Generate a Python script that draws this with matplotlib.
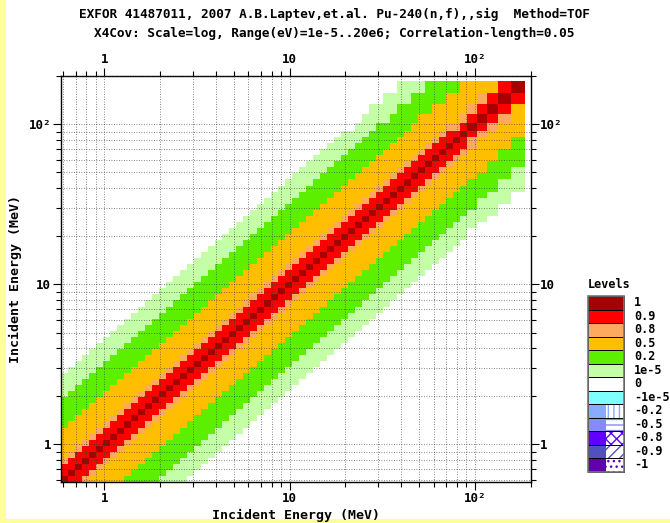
"""
X4Cov correlation matrix plot, EXFOR 41487011 (Pu-240(n,f)).
"""

import numpy as np
import matplotlib.pyplot as plt
from matplotlib.colors import ListedColormap, BoundaryNorm
from matplotlib.patches import Rectangle
from matplotlib.ticker import LogLocator, FixedLocator, FixedFormatter, NullFormatter

# Energy bin edges (MeV)
energy_edges = [
    0.583, 0.636, 0.694, 0.757, 0.826, 0.901, 0.983, 1.072, 1.169, 1.276,
    1.392, 1.518, 1.656, 1.806, 1.970, 2.149, 2.345, 2.558, 2.790, 3.044,
    3.321, 3.623, 3.952, 4.311, 4.703, 5.131, 5.597, 6.106, 6.661, 7.266,
    7.927, 8.647, 9.433, 10.29, 11.23, 12.24, 13.36, 14.57, 15.90, 17.34,
    18.92, 20.64, 22.51, 24.56, 26.79, 29.23, 31.88, 34.78, 37.95, 41.39,
    45.16, 49.26, 53.74, 58.62, 63.94, 69.76, 76.10, 83.02, 90.56, 102.4,
    115.9, 132.9, 156.2, 185.8,
]

# distance from the diagonal (decades between bin centres) -> correlation value
dist_limits = [0.0, 0.08, 0.125, 0.33, 0.5, 0.65]
dist_values = [1.0, 0.95, 0.85, 0.65, 0.35, 0.1]

# legend
level_labels = ['1', '0.9', '0.8', '0.5', '0.2', '1e-5', '0', '-1e-5',
                '-0.2', '-0.5', '-0.8', '-0.9', '-1']
level_colors = ['#A80000', '#FF0000', '#FFA860', '#FFBF00', '#5CF000', '#C4FFA8',
                '#FFFFFF', '#80FFFF', '#88AAFF', '#8888FF', '#6000FF', '#5050C0', '#6000B0']
level_hatches = [None] * 8 + ['|||', '---', 'xxx', '///', '...']

title1 = "EXFOR 41487011, 2007 A.B.Laptev,et.al. Pu-240(n,f),,sig  Method=TOF"
title2 = "X4Cov: Scale=log, Range(eV)=1e-5..20e6; Correlation-length=0.05"

FONT = 'DejaVu Sans Mono'

# build matrix
edges = np.array(energy_edges)
lc = 0.5 * (np.log10(edges[:-1]) + np.log10(edges[1:]))
dist = np.abs(lc[:, None] - lc[None, :])
idx = np.searchsorted(np.array(dist_limits), dist - 1e-9)
vals = np.append(dist_values, 0.0)
corr = vals[idx]
np.fill_diagonal(corr, 1.0)

bounds = [-0.5, 1e-5, 0.2, 0.5, 0.8, 0.9, 0.9999, 1.001]
cmap = ListedColormap(['#FFFFFF', '#C4FFA8', '#5CF000', '#FFBF00', '#FFA860', '#FF0000', '#A80000'])
norm = BoundaryNorm(bounds, cmap.N)

fig = plt.figure(figsize=(6.7, 5.23), dpi=100)
W, H = 670, 523
ax = fig.add_axes([61 / W, 1 - 482 / H, (530.5 - 61) / W, (482 - 76) / H])

ax.pcolormesh(edges, edges, corr, cmap=cmap, norm=norm, shading='flat', zorder=1)
ax.set_xscale('log')
ax.set_yscale('log')
ax.set_xlim(0.583, 200)
ax.set_ylim(0.583, 200)

major = [1, 10, 100]
labels = ['1', '10', '10²']
for axis in (ax.xaxis, ax.yaxis):
    axis.set_major_locator(FixedLocator(major))
    axis.set_major_formatter(FixedFormatter(labels))
    axis.set_minor_locator(LogLocator(base=10, subs=np.arange(2, 10)))
    axis.set_minor_formatter(NullFormatter())

ax.tick_params(which='both', direction='out', top=True, right=True,
               labeltop=True, labelright=True, width=0.8, color='black')
ax.tick_params(which='major', length=5.5, pad=1.5)
ax.tick_params(which='minor', length=3.5)
for t in ax.xaxis.get_major_ticks() + ax.yaxis.get_major_ticks():
    for lab in (t.label1, t.label2):
        lab.set_fontfamily(FONT)
        lab.set_fontweight('bold')
        lab.set_fontsize(9)

ax.grid(True, which='both', color='#333333', linestyle=(0, (1, 2)), linewidth=0.6, alpha=0.8)
ax.set_axisbelow(False)
for s in ax.spines.values():
    s.set_linewidth(1.0)

ax.set_xlabel('Incident Energy (MeV)', fontfamily=FONT, fontweight='bold', fontsize=9.5, labelpad=3)
ax.set_ylabel('Incident Energy (MeV)', fontfamily=FONT, fontweight='bold', fontsize=9.5, labelpad=5)

fig.text(334 / W, 1 - 14 / H, title1, ha='center', va='center', fontfamily=FONT,
         fontweight='bold', fontsize=9.2)
fig.text(334 / W, 1 - 33 / H, title2, ha='center', va='center', fontfamily=FONT,
         fontweight='bold', fontsize=9.2)

# legend boxes
fig.text(588 / W, 1 - 284 / H, 'Levels', ha='left', va='center', fontfamily=FONT,
         fontweight='bold', fontsize=8.5)
bx, bw, by0, bh = 588, 36, 296, 13.5
for i, (lab, col, hat) in enumerate(zip(level_labels, level_colors, level_hatches)):
    y = by0 + i * bh
    yb = 1 - (y + bh) / H
    if hat is None:
        fig.patches.append(Rectangle((bx / W, yb), bw / W, bh / H, transform=fig.transFigure,
                                     facecolor=col, edgecolor='black', linewidth=0.7))
    else:
        fig.patches.append(Rectangle((bx / W, yb), bw / 2 / W, bh / H, transform=fig.transFigure,
                                     facecolor=col, edgecolor='none'))
        fig.patches.append(Rectangle(((bx + bw / 2) / W, yb), bw / 2 / W, bh / H,
                                     transform=fig.transFigure, facecolor='white',
                                     edgecolor=col, hatch=hat, linewidth=0))
        fig.patches.append(Rectangle((bx / W, yb), bw / W, bh / H, transform=fig.transFigure,
                                     facecolor='none', edgecolor='black', linewidth=0.7))
    fig.text(634 / W, 1 - (y + bh / 2) / H, lab, ha='left', va='center', fontfamily=FONT,
             fontweight='bold', fontsize=8.5)
fig.patches.append(Rectangle((bx / W, 1 - (by0 + 13 * bh) / H), bw / W, 13 * bh / H,
                             transform=fig.transFigure, facecolor='none',
                             edgecolor='#777777', linewidth=1.2))

# yellow frame strips
fig.patches.append(Rectangle((0, 0), 6 / W, 1, transform=fig.transFigure,
                             facecolor='#FFFF99', edgecolor='none', zorder=-1))
fig.patches.append(Rectangle((0, 0), 1, 4 / H, transform=fig.transFigure,
                             facecolor='#FFFF99', edgecolor='none', zorder=-1))

fig.savefig('out.png', dpi=100)
